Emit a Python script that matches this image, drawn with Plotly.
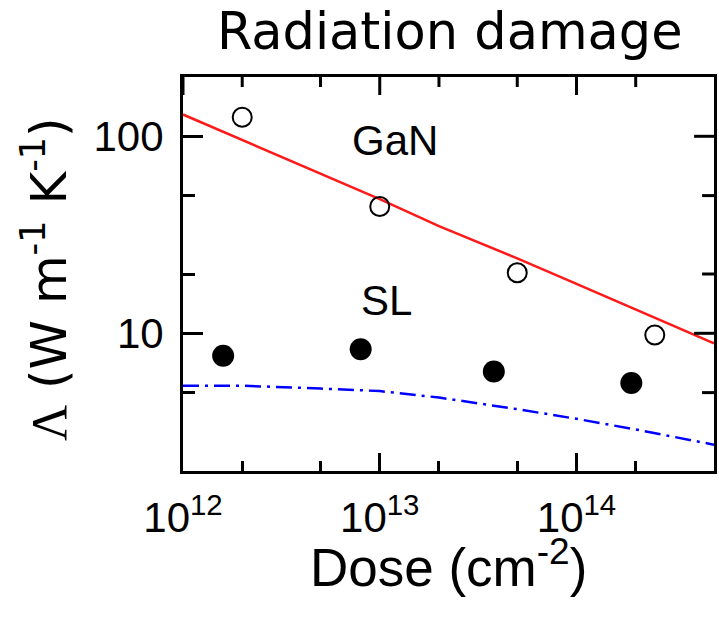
import plotly.graph_objects as go

# Measured thermal conductivity vs. irradiation dose
gan_dose = [2.0e12, 1.0e13, 5.0e13, 2.5e14]
gan_kappa = [125, 44, 20.3, 9.8]

sl_dose = [1.6e12, 8.0e12, 3.8e13, 1.9e14]
sl_kappa = [7.7, 8.3, 6.4, 5.6]

# Model curves
model_dose = [1e12, 2e12, 5e12, 1e13, 2e13, 5e13, 1e14, 2e14, 5e14]
gan_model = [129, 96, 65, 48, 35, 24, 17.8, 13.2, 8.9]
sl_model = [5.41, 5.42, 5.24, 5.09, 4.72, 4.12, 3.68, 3.25, 2.72]

x_ticks = [1e12, 1e13, 1e14]
x_ticktext = ["10<sup>12</sup>", "10<sup>13</sup>", "10<sup>14</sup>"]
x_minor = [2e12, 5e12, 2e13, 5e13, 2e14]
y_ticks = [10, 100]
y_ticktext = ["10", "100"]
y_minor = [5, 20, 50]

X_RANGE = [12, 14.699]
Y_RANGE = [0.30103, 2.30103]

SANS = "Liberation Sans, Arial, sans-serif"
WIDE = "DejaVu Sans, Verdana, sans-serif"

W, H = 719, 620
MARGIN = dict(l=183, r=2, t=77, b=149)
PLOT_W = W - MARGIN["l"] - MARGIN["r"]
PLOT_H = H - MARGIN["t"] - MARGIN["b"]

MAJOR_X_LEN, MINOR_X_LEN = 18, 10
MAJOR_Y_LEN, MINOR_Y_LEN = 20, 12

fig = go.Figure()
fig.add_trace(go.Scatter(x=model_dose, y=gan_model, mode="lines",
                         line=dict(color="#ff1a1a", width=2.5), showlegend=False))
fig.add_trace(go.Scatter(x=model_dose, y=sl_model, mode="lines",
                         line=dict(color="#0000ff", width=2.5, dash="16px,6px,3px,6px"),
                         showlegend=False))
fig.add_trace(go.Scatter(x=gan_dose, y=gan_kappa, mode="markers",
                         marker=dict(symbol="circle-open", size=19, color="black",
                                     line=dict(width=2, color="black")),
                         showlegend=False))
fig.add_trace(go.Scatter(x=sl_dose, y=sl_kappa, mode="markers",
                         marker=dict(symbol="circle", size=22, color="black"),
                         showlegend=False))

tickfont = dict(family=SANS, size=42, color="black")
frame = dict(showgrid=False, zeroline=False, linecolor="black", linewidth=3,
             ticks="inside", tickwidth=3, tickcolor="black", showline=True, mirror=True)

fig.update_layout(
    xaxis=dict(type="log", range=X_RANGE, tickvals=x_ticks, ticktext=x_ticktext,
               ticklen=MAJOR_X_LEN, ticklabelstandoff=8, tickfont=tickfont,
               minor=dict(tickvals=x_minor, ticks="inside", ticklen=MINOR_X_LEN,
                          tickwidth=3, tickcolor="black"),
               **frame),
    yaxis=dict(type="log", range=Y_RANGE, tickvals=y_ticks, ticktext=y_ticktext,
               ticklen=MAJOR_Y_LEN, ticklabelstandoff=8, tickfont=tickfont,
               minor=dict(tickvals=y_minor, ticks="inside", ticklen=MINOR_Y_LEN,
                          tickwidth=3, tickcolor="black"),
               **frame),
)

# inward ticks along the top and right edges of the frame
tick_line = dict(color="black", width=3)
shapes = []
for v, ln in [(v, MAJOR_X_LEN) for v in x_ticks] + [(v, MINOR_X_LEN) for v in x_minor]:
    shapes.append(dict(type="line", xref="x", x0=v, x1=v, yref="y domain",
                       y0=1, y1=1 - ln / PLOT_H, line=tick_line, layer="above"))
for v, ln in [(v, MAJOR_Y_LEN) for v in y_ticks] + [(v, MINOR_Y_LEN) for v in y_minor]:
    shapes.append(dict(type="line", yref="y", y0=v, y1=v, xref="x domain",
                       x0=1, x1=1 - ln / PLOT_W, line=tick_line, layer="above"))

annotations = [
    dict(text="Radiation damage", xref="paper", yref="paper", x=0.502, y=1,
         xanchor="center", yanchor="bottom", yshift=14, showarrow=False,
         font=dict(family=WIDE, size=51, color="black")),
    dict(text="GaN", xref="x", yref="y", x=13.078, y=1.98, showarrow=False,
         font=dict(family=SANS, size=42, color="black")),
    dict(text="SL", xref="x", yref="y", x=13.033, y=1.167, showarrow=False,
         font=dict(family=SANS, size=42, color="black")),
    dict(text="Dose (cm<sup>-2</sup>)", xref="paper", yref="paper", x=0.5, y=0,
         xanchor="center", yanchor="top", yshift=-57, showarrow=False,
         font=dict(family=SANS, size=53, color="black")),
    dict(text="<span style='font-family:Liberation Serif'>Λ</span> (W m<sup>-1</sup> K<sup>-1</sup>)",
         xref="paper", yref="paper", x=0, y=0.487, xanchor="center", yanchor="middle",
         xshift=-138, textangle=-90, showarrow=False,
         font=dict(family=WIDE, size=50, color="black")),
]
fig.update_layout(width=W, height=H, margin=MARGIN,
                  plot_bgcolor="white", paper_bgcolor="white",
                  annotations=annotations, shapes=shapes)

fig.write_html("out.html")
